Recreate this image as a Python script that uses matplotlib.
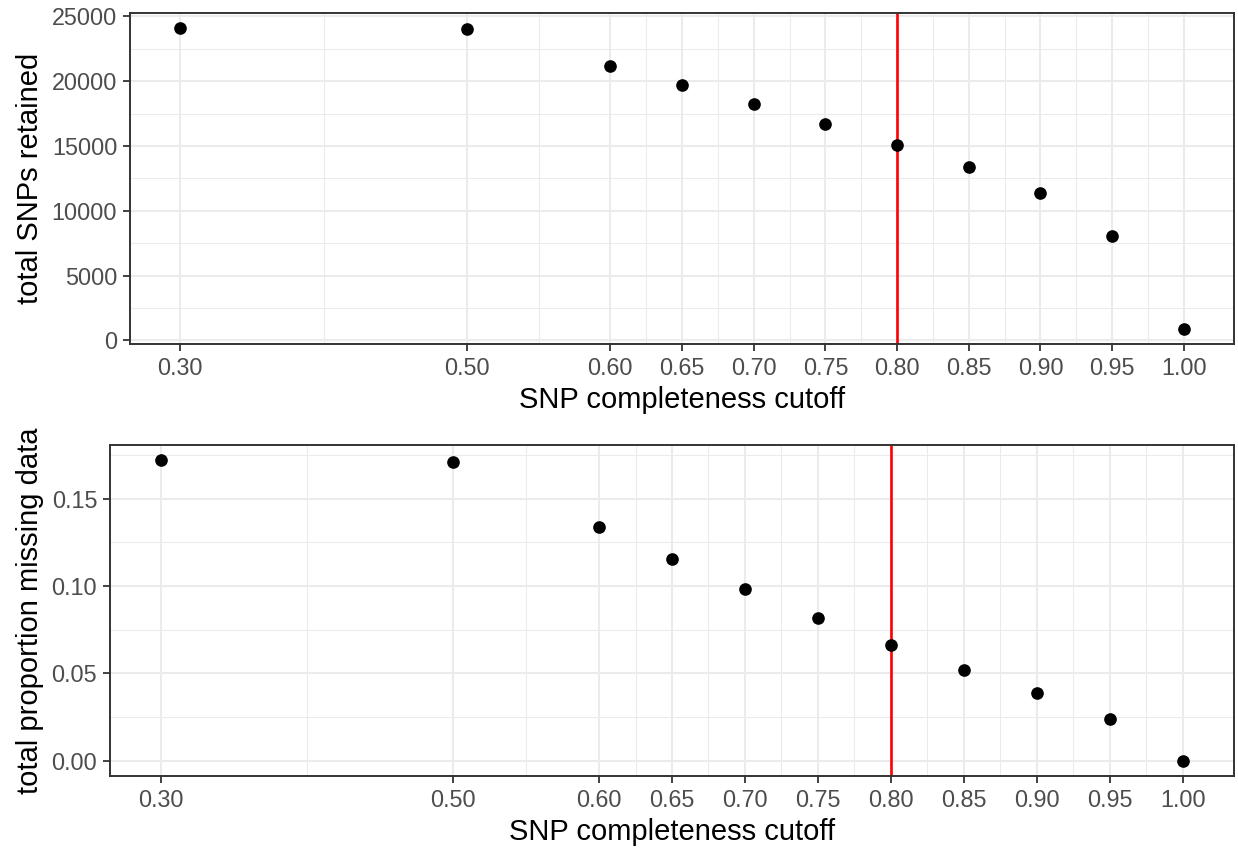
import matplotlib

matplotlib.use("Agg")
import matplotlib.pyplot as plt
from matplotlib.ticker import FixedLocator

plt.rcParams["font.family"] = ["Liberation Sans", "DejaVu Sans"]

# completeness cutoffs (x) and the two summaries
cutoffs = [0.30, 0.50, 0.60, 0.65, 0.70, 0.75, 0.80, 0.85, 0.90, 0.95, 1.00]
snps_retained = [24100, 24000, 21200, 19740, 18220, 16680, 15080, 13400, 11400, 8070, 880]
prop_missing = [0.1720, 0.1709, 0.1336, 0.1157, 0.0984, 0.0817, 0.0660, 0.0521, 0.0389, 0.0240, 0.0]
chosen_cutoff = 0.80

x_ticklabels = ["%.2f" % c for c in cutoffs]
x_minor = [0.40, 0.55, 0.625, 0.675, 0.725, 0.775, 0.825, 0.875, 0.925, 0.975]
top_yticks = [0, 5000, 10000, 15000, 20000, 25000]
top_yminor = [2500, 7500, 12500, 17500, 22500]
bot_yticks = [0.00, 0.05, 0.10, 0.15]
bot_yticklabels = ["0.00", "0.05", "0.10", "0.15"]
bot_yminor = [0.025, 0.075, 0.125, 0.175]

W, H = 1238, 849
DARK = "#333333"
GRID = "#EBEBEB"


def px(x0, y0, x1, y1):
    """pixel box (left, top, right, bottom) -> figure fraction rect"""
    return [x0 / W, 1 - y1 / H, (x1 - x0) / W, (y1 - y0) / H]


def style_panel(ax, yticks, yticklabels, yminor):
    ax.set_xticks(cutoffs)
    ax.set_xticklabels(x_ticklabels)
    ax.xaxis.set_minor_locator(FixedLocator(x_minor))
    ax.set_yticks(yticks)
    ax.set_yticklabels(yticklabels)
    ax.yaxis.set_minor_locator(FixedLocator(yminor))
    ax.grid(which="major", color=GRID, linewidth=1.45, zorder=0)
    ax.grid(which="minor", color=GRID, linewidth=0.75, zorder=0)
    ax.set_axisbelow(True)
    ax.tick_params(which="major", length=5.2, width=1.3, color=DARK,
                   labelsize=16.8, labelcolor="#4D4D4D", pad=4.0)
    ax.tick_params(which="minor", length=0)
    for s in ax.spines.values():
        s.set_color(DARK)
        s.set_linewidth(1.4)


def expand(vals, frac=0.05):
    lo, hi = min(vals), max(vals)
    d = (hi - lo) * frac
    return lo - d, hi + d


fig = plt.figure(figsize=(W / 100, H / 100), dpi=100)

panels = [
    (px(130, 13, 1234, 344), snps_retained, top_yticks,
     [str(v) for v in top_yticks], top_yminor, "total SNPs retained", 13, 344),
    (px(110, 445, 1234, 776), prop_missing, bot_yticks,
     bot_yticklabels, bot_yminor, "total proportion missing data", 445, 776),
]

for rect, yvals, yt, ytl, ym, ylab, ptop, pbot in panels:
    ax = fig.add_axes(rect)
    ax.scatter(cutoffs, yvals, s=9.1 ** 2, color="black", linewidths=0, zorder=3)
    ax.axvline(chosen_cutoff, color="#FF0000", linewidth=1.9, zorder=2)
    ax.set_xlim(*expand(cutoffs))
    ax.set_ylim(*expand(yvals))
    style_panel(ax, yt, ytl, ym)
    fig.text(38 / W, 1 - (ptop + pbot) / 2 / H, ylab, rotation=90,
             rotation_mode="anchor", ha="center", va="baseline",
             fontsize=21, color="black")
    cx = (rect[0] + rect[0] + rect[2]) / 2
    fig.text(cx, 1 - (pbot + 63.7) / H, "SNP completeness cutoff",
             ha="center", va="baseline", fontsize=21, color="black")

fig.savefig("out.png", dpi=100)
